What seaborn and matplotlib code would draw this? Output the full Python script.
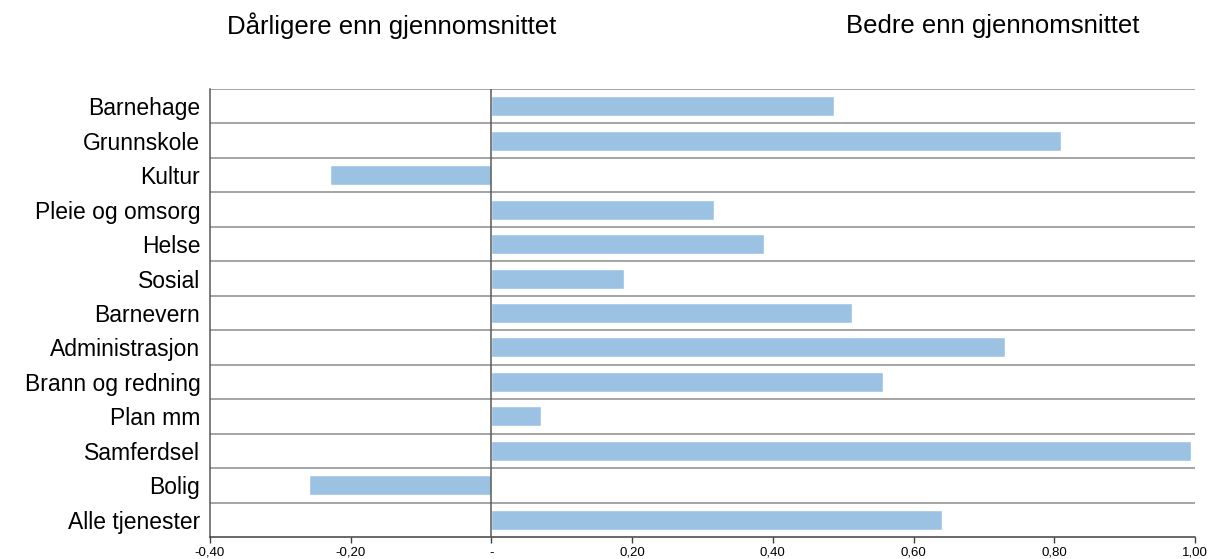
import numpy as np
import pandas as pd
import seaborn as sns
import matplotlib.pyplot as plt
from matplotlib.ticker import FixedLocator, FuncFormatter

categories = ["Barnehage", "Grunnskole", "Kultur", "Pleie og omsorg", "Helse",
              "Sosial", "Barnevern", "Administrasjon", "Brann og redning",
              "Plan mm", "Samferdsel", "Bolig", "Alle tjenester"]
values = [0.487, 0.809, -0.229, 0.316, 0.387, 0.189, 0.513, 0.730, 0.556,
          0.070, 0.994, -0.259, 0.640]
x_ticks = [-0.4, -0.2, 0.0, 0.2, 0.4, 0.6, 0.8, 1.0]

df = pd.DataFrame({"kategori": categories, "verdi": values})

sns.set_style("white")
plt.rcParams['font.family'] = ['Liberation Sans', 'DejaVu Sans']
plt.rcParams['text.color'] = 'black'
plt.rcParams['xtick.color'] = 'black'
plt.rcParams['ytick.color'] = 'black'

fig = plt.figure(figsize=(12.11, 5.59), dpi=100)
ax = fig.add_axes([0.1734, 0.0394, 0.8134, 0.8014])

sns.barplot(data=df, x="verdi", y="kategori", orient="h", color="#9BC2E3",
            saturation=1, width=0.58, ax=ax)

ax.set_xlim(-0.4, 1.0)
ax.set_ylim(len(categories) - 0.5, -0.5)

# horizontal separators between categories
ax.yaxis.set_minor_locator(FixedLocator(np.arange(-0.5, len(categories) - 0.5, 1)))
ax.grid(True, which="minor", axis="y", color="#8c8c8c", linewidth=1.1)
ax.grid(False, which="major")
ax.set_axisbelow(True)
ax.axvline(0, color="#595959", linewidth=1.1, zorder=3)

ax.xaxis.set_major_locator(FixedLocator(x_ticks))
ax.xaxis.set_major_formatter(FuncFormatter(
    lambda v, p: "-" if abs(v) < 1e-9 else f"{v:.2f}".replace(".", ",")))
ax.tick_params(axis="x", labelsize=9.5, length=4, width=1, color="#404040",
               labelcolor="black", bottom=True, pad=3)
ax.tick_params(axis="y", which="both", length=0, labelsize=16.5, pad=7,
               labelcolor="black")

for side in ["top", "right"]:
    ax.spines[side].set_visible(False)
ax.spines["left"].set_color("#595959")
ax.spines["bottom"].set_color("#404040")
ax.spines["left"].set_linewidth(1.1)
ax.spines["bottom"].set_linewidth(1.1)

ax.set_xlabel("")
ax.set_ylabel("")

fig.text(392 / 1211, 1 - 26 / 559, "Dårligere enn gjennomsnittet",
         ha="center", va="center", fontsize=18.5)
fig.text(993 / 1211, 1 - 26 / 559, "Bedre enn gjennomsnittet",
         ha="center", va="center", fontsize=18.5)

fig.savefig("out.png", dpi=100)
